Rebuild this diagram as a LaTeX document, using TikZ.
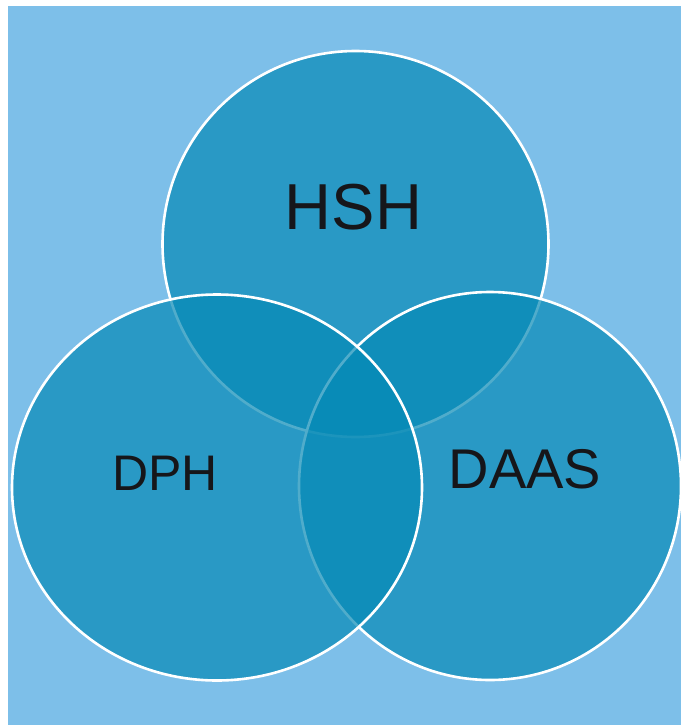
\documentclass[tikz,border=0pt]{standalone}
\usepackage{fontspec}
\setmainfont{Liberation Sans}
\definecolor{bgblue}{RGB}{125,191,233}
\definecolor{circfill}{RGB}{6,138,182}
\definecolor{txtcol}{RGB}{22,22,26}
\begin{document}
\begin{tikzpicture}[x=1pt,y=-1pt,
  venn/.style={fill=circfill, fill opacity=0.7, draw=white, draw opacity=1, line width=2.6pt},
  lbl/.style={anchor=base, inner sep=0pt, text=txtcol}]
\useasboundingbox (0,0) rectangle (681,725);
\fill[white] (0,0) rectangle (681,725);
\fill[bgblue] (8,6) rectangle (681,725);
% circles: top first, then right, then left on top
\path[venn] (355.5,244) ellipse [x radius=193pt, y radius=193pt];
\path[venn] (490,486) ellipse [x radius=191pt, y radius=194pt];
\path[venn] (217,487.5) ellipse [x radius=205pt, y radius=193pt];
\node[lbl, font=\fontsize{65}{70}\selectfont] (hsh) at (353.5,229) {HSH};
\node[lbl, font=\fontsize{50}{55}\selectfont] (dph) at (165,490) {DPH};
\node[lbl, font=\fontsize{56}{60}\selectfont] (daas) at (525,488) {DAAS};
\end{tikzpicture}
\end{document}
